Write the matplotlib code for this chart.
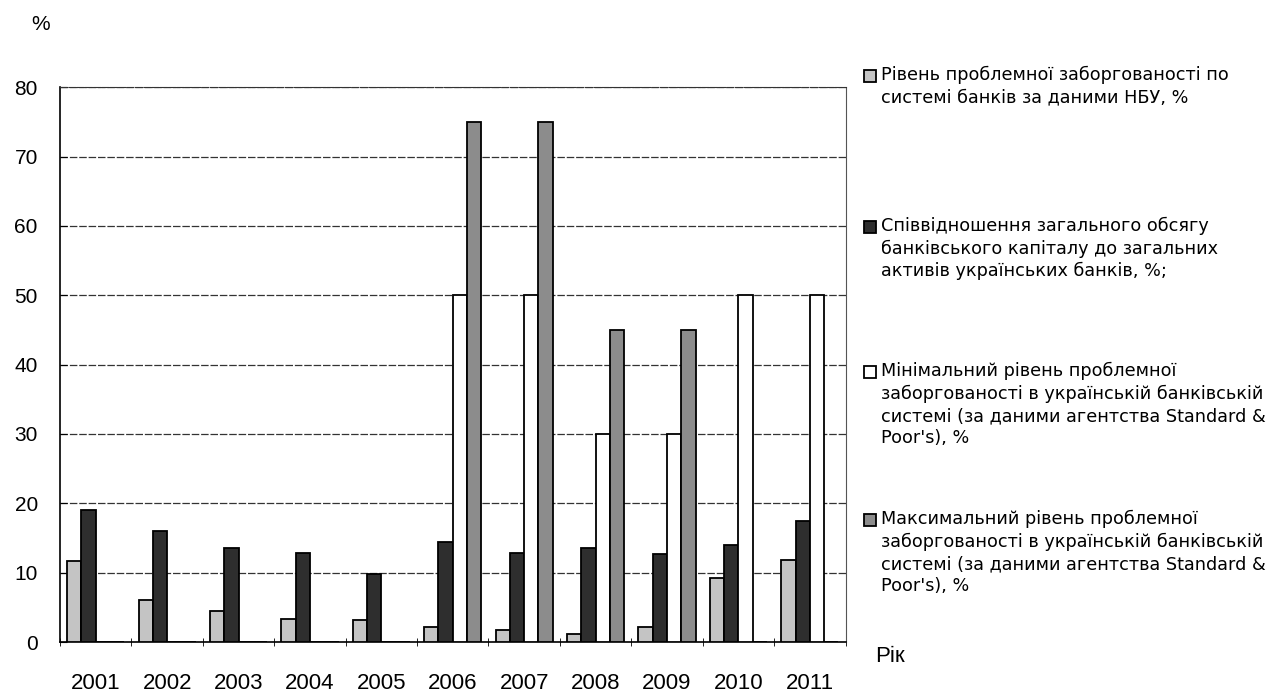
import numpy as np
import matplotlib
matplotlib.use("Agg")
import matplotlib.pyplot as plt
from matplotlib.patches import Rectangle

plt.rcParams["font.family"] = ["Liberation Sans", "DejaVu Sans"]

years = ["2001", "2002", "2003", "2004", "2005", "2006",
         "2007", "2008", "2009", "2010", "2011"]

# рівень проблемної заборгованості (НБУ)
nbu = [11.7, 6.0, 4.5, 3.3, 3.2, 2.2, 1.7, 1.2, 2.1, 9.3, 11.8]
# співвідношення капіталу до активів
capital = [19.0, 16.0, 13.6, 12.8, 9.8, 14.4, 12.9, 13.5, 12.7, 14.0, 17.5]
# мінімальний рівень (S&P)
sp_min = [0, 0, 0, 0, 0, 50, 50, 30, 30, 50, 50]
# максимальний рівень (S&P)
sp_max = [0, 0, 0, 0, 0, 75, 75, 45, 45, 0, 0]

labels = [
    "Рівень проблемної заборгованості по\nсистемі банків за даними НБУ, %",
    "Співвідношення загального обсягу\nбанківського капіталу до загальних\nактивів українських банків, %;",
    "Мінімальний рівень проблемної\nзаборгованості в українській банківській\nсистемі (за даними агентства Standard &\nPoor's), %",
    "Максимальний рівень проблемної\nзаборгованості в українській банківській\nсистемі (за даними агентства Standard &\nPoor's), %",
]

W, H = 1285, 698
fig = plt.figure(figsize=(W / 100, H / 100), dpi=100)
ax = fig.add_axes([0.0467, 0.0802, 0.6113, 0.7948])

x = np.arange(len(years))
w = 0.2
series = [nbu, capital, sp_min, sp_max]
colors = ["#c4c4c4", "#2e2e2e", "#ffffff", "#8c8c8c"]
for i, (vals, c) in enumerate(zip(series, colors)):
    ax.bar(x + (i - 1.5) * w, vals, w, color=c, edgecolor="black",
           linewidth=1.3, zorder=3)

ax.set_xlim(-0.5, len(years) - 0.5)
ax.set_ylim(0, 80)
ax.set_yticks(np.arange(0, 81, 10))
ax.set_xticks(x)
ax.set_xticklabels(years)
ax.set_xticks(np.arange(-0.5, len(years), 1), minor=True)
ax.tick_params(axis="x", which="major", length=0, pad=22, labelsize=16)
ax.tick_params(axis="x", which="minor", length=6, direction="inout")
ax.tick_params(axis="y", length=5, direction="in", pad=16, labelsize=15)

ax.grid(axis="y", color="#333333", linestyle=(0, (6, 1.5)), linewidth=0.9, zorder=0)
ax.spines["left"].set_linewidth(1.2)
ax.spines["bottom"].set_linewidth(1.2)
ax.spines["top"].set_linestyle((0, (6, 1.5)))
ax.spines["top"].set_color("#333333")
ax.spines["right"].set_linestyle((0, (1, 1)))
ax.spines["right"].set_color("#555555")

fig.text(0.024, 0.965, "%", fontsize=15, ha="left", va="center")
fig.text(0.681, 0.06, "Рік", fontsize=16, ha="left", va="center")

# legend: square marker next to the first line of each text block
first_line = [76, 227, 372, 520]  # pixel rows of first text line
for lab, c, yc in zip(labels, colors, first_line):
    fig.patches.append(Rectangle((864 / W, 1 - (yc + 6) / H), 12 / W, 12 / H,
                                 transform=fig.transFigure, facecolor=c,
                                 edgecolor="black", linewidth=1.3))
    fig.text(881 / W, 1 - (yc - 10) / H, lab, ha="left", va="top",
             family="DejaVu Sans", fontsize=12.7, linespacing=1.3)

fig.savefig("out.png", dpi=100)
